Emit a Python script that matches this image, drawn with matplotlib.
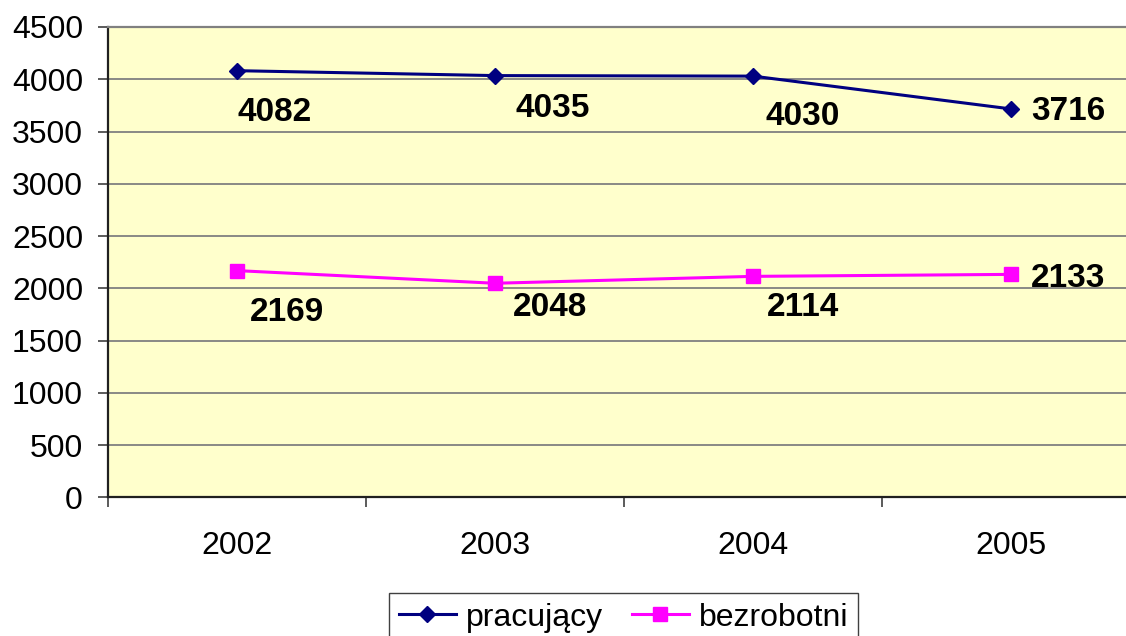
import matplotlib.pyplot as plt
import numpy as np

plt.rcParams["font.family"] = ["Liberation Sans", "DejaVu Sans"]

years = ["2002", "2003", "2004", "2005"]
pracujacy = [4082, 4035, 4030, 3716]
bezrobotni = [2169, 2048, 2114, 2133]
y_ticks = [0, 500, 1000, 1500, 2000, 2500, 3000, 3500, 4000, 4500]

# label offsets in pixels (how the source chart placed them)
off_prac = [(1, -42), (21, -33), (12, -40), (20, -3)]
off_bezr = [(13, -42), (18, -24), (14, -31), (20, -4)]

fig = plt.figure(figsize=(11.26, 6.36), dpi=100)
ax = fig.add_axes([108 / 1126, 1 - 497.3 / 636, 1032 / 1126, 470.3 / 636])
ax.set_facecolor("#FFFFCC")

x = np.arange(len(years))
ax.plot(x, pracujacy, color="#000080", lw=2.2, marker="D", ms=8.5,
        label="pracujący", zorder=3)
ax.plot(x, bezrobotni, color="#FF00FF", lw=2.2, marker="s", ms=10,
        label="bezrobotni", zorder=3)

for xi, v, (dx, dy) in zip(x, pracujacy, off_prac):
    ax.annotate(str(v), (xi, v), xytext=(dx, dy), textcoords="offset pixels",
                ha="left", va="center", fontsize=24, fontweight="bold")
for xi, v, (dx, dy) in zip(x, bezrobotni, off_bezr):
    ax.annotate(str(v), (xi, v), xytext=(dx, dy), textcoords="offset pixels",
                ha="left", va="center", fontsize=24, fontweight="bold")

ax.set_xlim(-0.5, len(years) - 0.5)
ax.set_ylim(0, 4500)
ax.set_yticks(y_ticks)
ax.set_yticklabels([str(t) for t in y_ticks])
ax.yaxis.grid(True, color="#808080", lw=1.3)
ax.set_axisbelow(True)

# ticks on category boundaries, labels in the middle
ax.set_xticks(np.arange(len(years) + 1) - 0.5)
ax.set_xticklabels([])
ax.set_xticks(x, minor=True)
ax.set_xticklabels(years, minor=True)
ax.tick_params(axis="x", which="major", length=7, width=1.2, color="#404040",
               direction="out")
ax.tick_params(axis="x", which="minor", length=0, pad=24, labelsize=23)
ax.tick_params(axis="y", length=7, width=1.2, color="#404040", pad=11,
               labelsize=23)

for side in ["left", "bottom"]:
    ax.spines[side].set_color("#202020")
    ax.spines[side].set_linewidth(1.6)
ax.spines["top"].set_color("#808080")
ax.spines["top"].set_linewidth(1.6)
ax.spines["right"].set_visible(False)

fig.legend(loc="upper center", bbox_to_anchor=(623.5 / 1126, 1 - 593 / 636),
           ncol=2, fontsize=23, frameon=True, fancybox=False,
           edgecolor="#404040", handlelength=1.8, handletextpad=0.3,
           columnspacing=0.9, borderpad=0.3, borderaxespad=0, framealpha=1)

fig.savefig("out.png", dpi=100)
